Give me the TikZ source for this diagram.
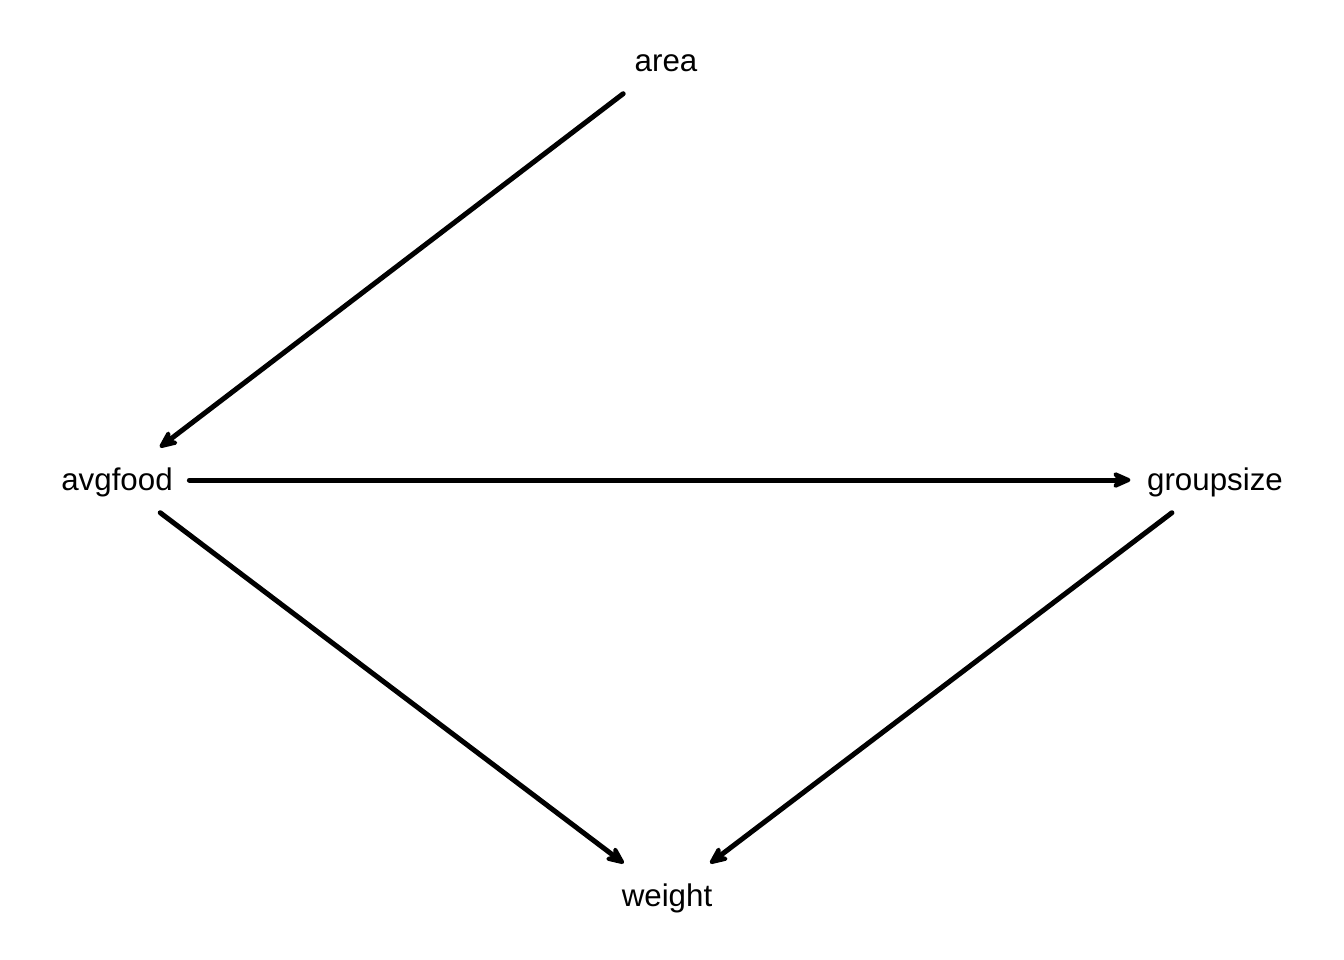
\documentclass[tikz,border=0pt]{standalone}
\usepackage{fontspec}
\setmainfont{Liberation Sans}
\usepackage{tikz}
\usetikzlibrary{arrows.meta}

\begin{document}
\begin{tikzpicture}[x=0.01cm,y=-0.01cm,
    var/.style={inner xsep=0.16cm,inner ysep=0pt,minimum height=0.64cm,
      text height=7pt,text depth=1.2pt,font=\fontsize{8.9}{10}\selectfont},
    dagarrow/.style={line width=0.05cm,line cap=round,line join=round,
      -{Stealth[length=0.24cm,width=0.21cm,inset=0.08cm,round]}}]
  \useasboundingbox (0,0) rectangle (1344,960);
  \node[var] (area) at (666,61) {area};
  \node[var] (avgfood) at (117,480) {avgfood};
  \node[var] (groupsize) at (1215,480) {groupsize};
  \node[var] (weight) at (667,896) {weight};
  \path[dagarrow]
    (area) edge (avgfood)
    (avgfood) edge (groupsize)
    (avgfood) edge (weight)
    (groupsize) edge (weight);
\end{tikzpicture}
\end{document}
